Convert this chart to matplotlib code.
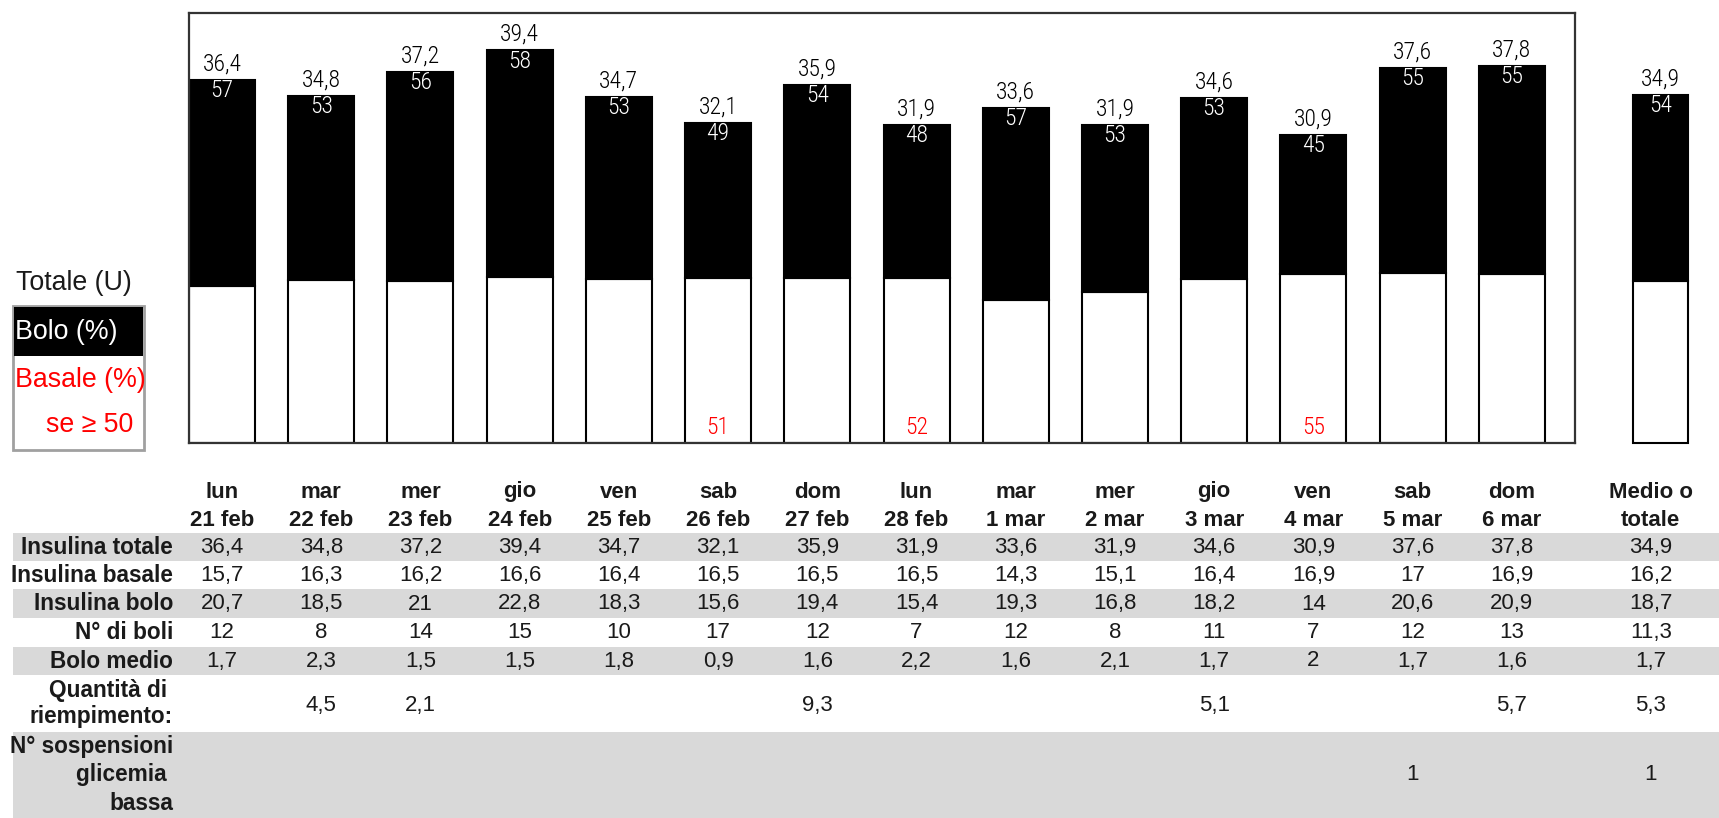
import matplotlib
matplotlib.use("Agg")
import matplotlib.pyplot as plt
from matplotlib import font_manager, transforms
from matplotlib.patches import Rectangle

# ---- data -----------------------------------------------------------------
giorni = ["lun", "mar", "mer", "gio", "ven", "sab", "dom",
          "lun", "mar", "mer", "gio", "ven", "sab", "dom"]
date = ["21 feb", "22 feb", "23 feb", "24 feb", "25 feb", "26 feb", "27 feb",
        "28 feb", "1 mar", "2 mar", "3 mar", "4 mar", "5 mar", "6 mar"]
insulina_totale = [36.4, 34.8, 37.2, 39.4, 34.7, 32.1, 35.9,
                   31.9, 33.6, 31.9, 34.6, 30.9, 37.6, 37.8]
insulina_basale = [15.7, 16.3, 16.2, 16.6, 16.4, 16.5, 16.5,
                   16.5, 14.3, 15.1, 16.4, 16.9, 17, 16.9]
insulina_bolo = [20.7, 18.5, 21, 22.8, 18.3, 15.6, 19.4,
                 15.4, 19.3, 16.8, 18.2, 14, 20.6, 20.9]
n_boli = [12, 8, 14, 15, 10, 17, 12, 7, 12, 8, 11, 7, 12, 13]
bolo_medio = [1.7, 2.3, 1.5, 1.5, 1.8, 0.9, 1.6, 2.2, 1.6, 2.1, 1.7, 2, 1.7, 1.6]
riempimento = [None, 4.5, 2.1, None, None, None, 9.3,
               None, None, None, 5.1, None, None, 5.7]
sospensioni = [None, None, None, None, None, None, None,
               None, None, None, None, None, 1, None]
bolo_pct = [57, 53, 56, 58, 53, 49, 54, 48, 57, 53, 53, 45, 55, 55]

# summary column ("Medio o totale")
medio_totale = 34.9
medio_basale = 16.2
medio_bolo = 18.7
medio_n_boli = 11.3
medio_bolo_medio = 1.7
medio_riempimento = 5.3
medio_sospensioni = 1
medio_bolo_pct = 54

# ---- style ----------------------------------------------------------------
W, H = 1719, 818
DPI = 100
RED = "#ff0000"
GREY = "#d9d9d9"
TXT = "#1a1a1a"

available = {f.name for f in font_manager.fontManager.ttflist}
BAR_FONT, BAR_SIZE, BAR_STRETCH = "DejaVu Sans", 15.5, "condensed"
for cand, size in (("Liberation Sans Narrow", 19), ("Roboto Condensed", 17),
                   ("Open Sans Condensed", 17)):
    if cand in available:
        BAR_FONT, BAR_SIZE, BAR_STRETCH = cand, size, "normal"
        break
TAB_FONT = "Liberation Sans"
TAB_SIZE = 16
LEG_SIZE = 19.3


def fmt(v):
    if v is None:
        return ""
    if float(v).is_integer():
        return str(int(v))
    return f"{v:.1f}".replace(".", ",")


def fy(px):
    """figure fraction from a pixel row measured from the top"""
    return 1 - px / H


fig = plt.figure(figsize=(W / DPI, H / DPI), dpi=DPI)

# ---- bar chart ------------------------------------------------------------
left, right, top, bottom = 189, 1575, 13, 443
ax = fig.add_axes([left / W, fy(bottom), (right - left) / W, (bottom - top) / H])

x = list(range(len(giorni)))
bw = 0.665
ax.bar(x, insulina_basale, width=bw, color="white", edgecolor="black", linewidth=1.5)
ax.bar(x, insulina_bolo, width=bw, bottom=insulina_basale, color="black",
       edgecolor="black", linewidth=1.5)

x_medio = 14.5
bw_medio = 0.56
ax.bar([x_medio], [medio_basale], width=bw_medio, color="white", edgecolor="black",
       linewidth=1.5, clip_on=False)
ax.bar([x_medio], [medio_bolo], width=bw_medio, bottom=[medio_basale], color="black",
       edgecolor="black", linewidth=1.5, clip_on=False)

ax.set_xlim(-0.333, 13.637)
ax.set_ylim(0, 43.1)
ax.set_xticks([])
ax.set_yticks([])
for sp in ax.spines.values():
    sp.set_color("#333333")
    sp.set_linewidth(1.6)

lab_kw = dict(textcoords="offset points", ha="center", va="center",
              family=BAR_FONT, fontsize=BAR_SIZE, fontstretch=BAR_STRETCH,
              fontweight="light", annotation_clip=False)
xs = x + [x_medio]
tots = insulina_totale + [medio_totale]
pcts = bolo_pct + [medio_bolo_pct]
for xi, t, p in zip(xs, tots, pcts):
    ax.annotate(fmt(t), (xi, t), xytext=(0, 11.2), color="black", **lab_kw)
    ax.annotate(str(p), (xi, t), xytext=(0, -8.0), color="white", **lab_kw)
    basal_pct = 100 - p
    if basal_pct >= 50:
        ax.annotate(str(basal_pct), (xi, 0), xytext=(0, 10.8), color=RED, **lab_kw)

# ---- legend box -----------------------------------------------------------
fig.text(16 / W, fy(283), "Totale (U)", family=TAB_FONT, fontsize=LEG_SIZE,
         color=TXT, ha="left", va="center")
fig.patches.append(Rectangle((13 / W, fy(450)), (144 - 13) / W, (450 - 306) / H,
                             transform=fig.transFigure, facecolor="white",
                             edgecolor="#a0a0a0", linewidth=2))
fig.patches.append(Rectangle((14 / W, fy(356)), (143 - 14) / W, (356 - 307) / H,
                             transform=fig.transFigure, facecolor="black",
                             edgecolor="none"))
fig.text(15 / W, fy(332), "Bolo (%)", family=TAB_FONT, fontsize=LEG_SIZE,
         color="white", ha="left", va="center")
fig.text(15 / W, fy(380), "Basale (%)", family=TAB_FONT, fontsize=LEG_SIZE,
         color=RED, ha="left", va="center")
fig.text(133 / W, fy(425), "se \u2265 50", family=TAB_FONT, fontsize=LEG_SIZE,
         color=RED, ha="right", va="center")

# ---- table ----------------------------------------------------------------
tr = transforms.blended_transform_factory(ax.transData, fig.transFigure)
x_tab_medio = 14.4
cols = x + [x_tab_medio]

# alternating grey bands
bands = [(533, 561, True), (561, 589, False), (589, 618, True), (618, 647, False),
         (647, 675, True), (675, 732, False), (732, 818, True)]
for y0, y1, grey in bands:
    if grey:
        fig.patches.append(Rectangle((13 / W, fy(y1)), 1 - 13 / W, (y1 - y0) / H,
                                     transform=fig.transFigure, facecolor=GREY,
                                     edgecolor="none", zorder=0))

# column headers
head_kw = dict(family=TAB_FONT, fontsize=TAB_SIZE, fontweight="bold", color=TXT,
               ha="center", va="center", transform=tr)
for xi, g, d in zip(x, giorni, date):
    fig.text(xi, fy(492), g, **head_kw)
    fig.text(xi, fy(520), d, **head_kw)
fig.text(x_tab_medio, fy(492), "Medio o", **head_kw)
fig.text(x_tab_medio, fy(520), "totale", **head_kw)

rows = [
    (["Insulina totale"], [547], insulina_totale + [medio_totale], 547),
    (["Insulina basale"], [575.5], insulina_basale + [medio_basale], 575.5),
    (["Insulina bolo"], [604], insulina_bolo + [medio_bolo], 604),
    (["N\u00b0 di boli"], [632.5], n_boli + [medio_n_boli], 632.5),
    (["Bolo medio"], [661], bolo_medio + [medio_bolo_medio], 661),
    (["Quantit\u00e0 di ", "riempimento:"], [690, 717],
     riempimento + [medio_riempimento], 705),
    (["N\u00b0 sospensioni", "glicemia ", "bassa"], [747, 775, 803],
     sospensioni + [medio_sospensioni], 775),
]
label_x = 173 / W
for labels, label_ys, values, vy in rows:
    for lab, ly in zip(labels, label_ys):
        fig.text(label_x, fy(ly), lab, family=TAB_FONT, fontsize=TAB_SIZE + 0.3,
                 fontweight="bold", color=TXT, ha="right", va="center")
    for xi, v in zip(cols, values):
        fig.text(xi, fy(vy), fmt(v), family=TAB_FONT, fontsize=TAB_SIZE,
                 color=TXT, ha="center", va="center", transform=tr)

fig.savefig("out.png", dpi=DPI)
